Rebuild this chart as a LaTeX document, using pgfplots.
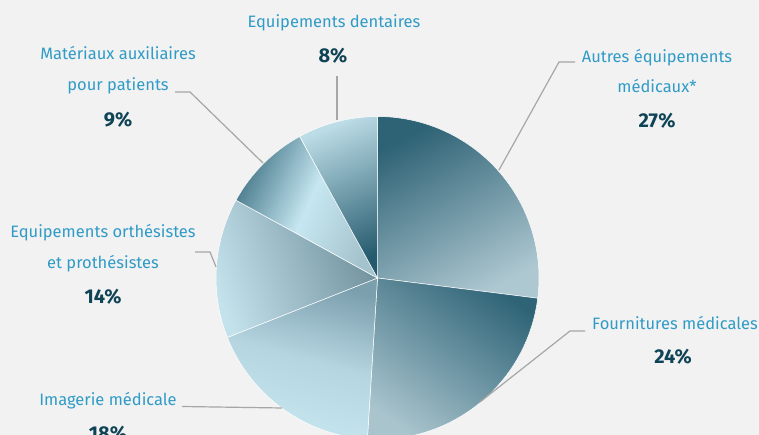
\documentclass[border=0pt]{standalone}
\usepackage{pgfplots}
\pgfplotsset{compat=1.18}
\usepackage{fontspec}
\setmainfont{Fira Sans}
\definecolor{bg}{HTML}{F2F2F2}
\definecolor{lab}{HTML}{2F9BC6}
\definecolor{pct}{HTML}{0F4356}
\definecolor{ln}{HTML}{A6A6A6}
% pie data (percent)
\def\pA{27}\def\pB{24}\def\pC{18}\def\pD{14}\def\pE{9}\def\pF{8}
\newcommand\slice[3]{%
  \shadedraw[draw=white,line width=0.5pt,#3] (axis cs:377.5,157) -- ++({90-3.6*(#1)}:161.5pt)
    arc[start angle={90-3.6*(#1)}, end angle={90-3.6*(#1+#2)}, radius=161.5pt] -- cycle;}
\begin{document}
\begin{tikzpicture}
\begin{axis}[width=759pt,height=435pt,scale only axis,xmin=0,xmax=759,ymin=0,ymax=435,hide axis,clip=true]
\fill[bg] (axis cs:0,0) rectangle (axis cs:759,435);
\slice{0}{\pA}{top color={rgb,255:red,46;green,98;blue,117},bottom color={rgb,255:red,174;green,200;blue,209},shading angle=28}
\slice{\pA}{\pB}{top color={rgb,255:red,47;green,100;blue,119},bottom color={rgb,255:red,169;green,196;blue,205},shading angle=-36}
\slice{\pA+\pB}{\pC}{top color={rgb,255:red,124;green,159;blue,174},bottom color={rgb,255:red,198;green,230;blue,240},middle color={rgb,255:red,181;green,213;blue,224},shading angle=-15}
\slice{\pA+\pB+\pC}{\pD}{top color={rgb,255:red,111;green,144;blue,156},bottom color={rgb,255:red,196;green,226;blue,236},shading angle=-70}
\slice{\pA+\pB+\pC+\pD}{\pE}{top color={rgb,255:red,74;green,123;blue,141},bottom color={rgb,255:red,165;green,195;blue,205},middle color={rgb,255:red,198;green,231;blue,241},shading angle=65}
\slice{\pA+\pB+\pC+\pD+\pE}{\pF}{top color={rgb,255:red,188;green,220;blue,230},bottom color={rgb,255:red,36;green,90;blue,109},shading angle=23}
% leader lines
\draw[ln,line width=1.2pt] (axis cs:337,359) -- (axis cs:337,315);
\draw[ln,line width=1.2pt] (axis cs:175,343) -- (axis cs:190,343) -- (axis cs:263,272);
\draw[ln,line width=1.2pt] (axis cs:575,373) -- (axis cs:559,373) -- (axis cs:499,265);
\draw[ln,line width=1.2pt] (axis cs:195,183) -- (axis cs:210,183) -- (axis cs:216,168);
\draw[ln,line width=1.2pt] (axis cs:182,28.5) -- (axis cs:282,27);
\draw[ln,line width=1.2pt] (axis cs:585,104) -- (axis cs:570,104) -- (axis cs:480,33);
% labels
\tikzset{lb/.style={anchor=base,inner sep=0pt,text=lab,font=\fontsize{16.5}{18}\selectfont},
         pc/.style={anchor=base,inner sep=0pt,text=pct,font=\fontsize{20}{22}\selectfont\bfseries}}
\node[lb] at (axis cs:334,407) {Equipements dentaires};
\node[pc] at (axis cs:333,372) {8\%};
\node[lb] at (axis cs:118,375) {Matériaux auxiliaires};
\node[lb] at (axis cs:118,344) {pour patients};
\node[pc] at (axis cs:118,308) {9\%};
\node[lb] at (axis cs:657,372) {Autres équipements};
\node[lb] at (axis cs:657,342) {médicaux*};
\node[pc] at (axis cs:657,307) {27\%};
\node[lb] at (axis cs:103,197) {Equipements orthésistes};
\node[lb] at (axis cs:103,166) {et prothésistes};
\node[pc] at (axis cs:103,131) {14\%};
\node[lb] at (axis cs:108,29) {Imagerie médicale};
\node[pc] at (axis cs:108,-6) {18\%};
\node[lb] at (axis cs:675,105) {Fournitures médicales};
\node[pc] at (axis cs:673,71) {24\%};
\end{axis}
\pgfresetboundingbox
\path (current axis.south west) rectangle (current axis.north east);
\end{tikzpicture}
\end{document}
